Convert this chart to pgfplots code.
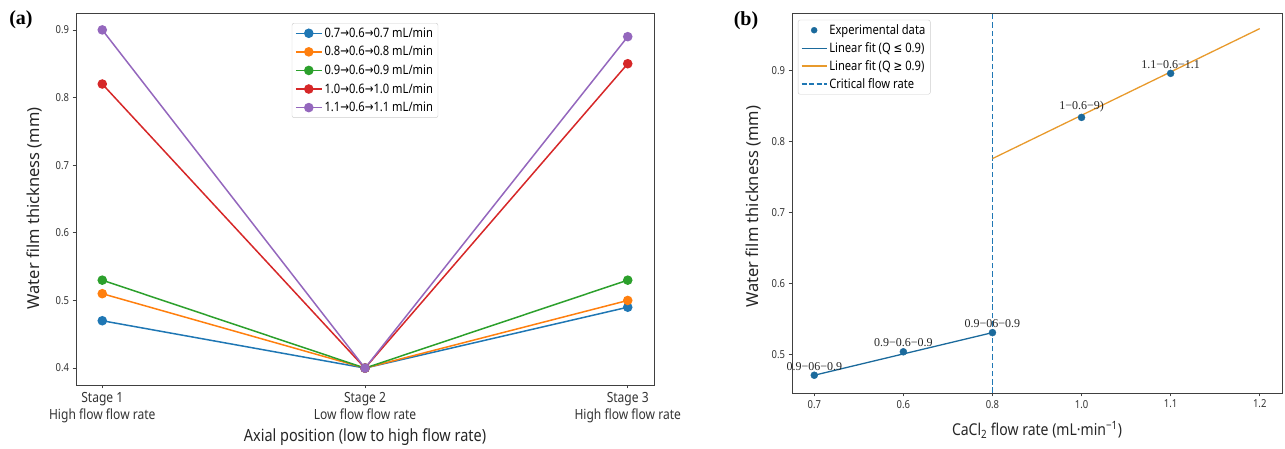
\documentclass[border=0pt]{standalone}
\usepackage{pgfplots}
\pgfplotsset{compat=1.18}
\usepackage{fontspec}
\setmainfont[FakeStretch=0.86]{Noto Sans}
\newfontfamily\ylabfont{Noto Sans}
\newfontfamily\dv[FakeStretch=0.8]{DejaVu Sans}
\newfontfamily\serifl{Liberation Serif}
\newcommand{\ar}{{\dv →}}
\definecolor{tblue}{HTML}{1F77B4}
\definecolor{torange}{HTML}{FF7F0E}
\definecolor{tgreen}{HTML}{2CA02C}
\definecolor{tred}{HTML}{D62728}
\definecolor{tpurple}{HTML}{9467BD}
\definecolor{pblue}{HTML}{1B6A9C}
\definecolor{forange}{HTML}{E89A2C}
\begin{document}
\begin{tikzpicture}
\useasboundingbox (0,0) rectangle (1285pt,449pt);
\pgfplotsset{
  common/.style={
    scale only axis, anchor=south west,
    tick align=outside, tick pos=left, major tick length=3.5pt,
    axis line style={draw=black!75, line width=0.8pt},
    every tick/.style={draw=black!75, line width=0.7pt},
    tick label style={font=\fontsize{11}{13}\selectfont, text=black!80},
    /pgf/number format/assume math mode=true,
    yticklabel style={/pgf/number format/.cd, fixed, fixed zerofill, precision=1},
    legend cell align=left,
  }
}
% ---------- panel (a)
\begin{axis}[common,
  at={(76pt,64pt)}, width=578pt, height=372pt,
  xmin=-0.1, xmax=2.1, ymin=0.375, ymax=0.925,
  xtick={0,1,2},
  xticklabels={{Stage 1\\High flow flow rate},{Stage 2\\Low flow flow rate},{Stage 3\\High flow flow rate}},
  xticklabel style={align=center, font=\fontsize{14}{17}\selectfont},
  ytick={0.4,0.5,0.6,0.7,0.8,0.9},
  xlabel={Axial position (low to high flow rate)},
  ylabel={Water film thickness (mm)},
  every axis x label/.style={at={(axis description cs:0.5,-0.14)}, anchor=center, font=\fontsize{16.8}{20}\selectfont, text=black!85},
  every axis y label/.style={at={(axis description cs:-0.071,0.475)}, anchor=center, rotate=90, font=\ylabfont\fontsize{16.5}{20}\selectfont, text=black!85},
  legend style={at={(axis description cs:0.5,0.973)}, anchor=north, draw=black!20, rounded corners=2pt,
    font=\fontsize{13}{15}\selectfont, row sep=3.5pt, inner xsep=3pt, inner ysep=2.5pt},
  legend image code/.code={\draw[mark repeat=2,mark phase=2] plot coordinates {(0pt,0pt)(13pt,0pt)(26pt,0pt)};},
  every axis plot/.append style={line width=1.5pt, mark=*, mark size=4pt, mark options={solid}},
]
\addplot[tblue] coordinates {(0,0.47) (1,0.40) (2,0.49)};
\addlegendentry{0.7\ar0.6\ar0.7 mL/min}
\addplot[torange] coordinates {(0,0.51) (1,0.40) (2,0.50)};
\addlegendentry{0.8\ar0.6\ar0.8 mL/min}
\addplot[tgreen] coordinates {(0,0.53) (1,0.40) (2,0.53)};
\addlegendentry{0.9\ar0.6\ar0.9 mL/min}
\addplot[tred] coordinates {(0,0.82) (1,0.40) (2,0.85)};
\addlegendentry{1.0\ar0.6\ar1.0 mL/min}
\addplot[tpurple] coordinates {(0,0.90) (1,0.40) (2,0.89)};
\addlegendentry{1.1\ar0.6\ar1.1 mL/min}
\end{axis}
% ---------- panel (b)
\begin{axis}[common,
  at={(792pt,56pt)}, width=490pt, height=380pt,
  xmin=0.675, xmax=1.225, ymin=0.446, ymax=0.981,
  xtick={0.7,0.8,0.9,1.0,1.1,1.2},
  xticklabels={0.7,0.6,0.8,1.0,1.1,1.2},
  ytick={0.5,0.6,0.7,0.8,0.9},
  xlabel={CaCl\textsubscript{2} flow rate (mL·min\textsuperscript{−1})},
  ylabel={Water film thickness (mm)},
  every axis x label/.style={at={(axis description cs:0.5,-0.097)}, anchor=center, font=\fontsize{16.3}{20}\selectfont, text=black!85},
  every axis y label/.style={at={(axis description cs:-0.0796,0.49)}, anchor=center, rotate=90, font=\ylabfont\fontsize{16.5}{20}\selectfont, text=black!85},
  legend style={at={(axis description cs:0.012,0.982)}, anchor=north west, draw=black!20, rounded corners=2pt,
    font=\fontsize{13}{15}\selectfont, row sep=2.5pt, inner xsep=3pt, inner ysep=2.5pt},
  legend image code/.code={\draw plot coordinates {(0pt,0pt)(25pt,0pt)};},
]
\addlegendimage{only marks, mark=*, mark size=3pt, pblue, legend image code/.code={\draw plot coordinates {(12.5pt,0pt)};}}
\addlegendentry{Experimental data}
\addlegendimage{pblue, line width=1.2pt}
\addlegendentry{Linear fit (Q {\dv ≤} 0.9)}
\addlegendimage{forange, line width=1.2pt}
\addlegendentry{Linear fit (Q {\dv ≥} 0.9)}
\addlegendimage{tblue, line width=1.2pt, dash pattern=on 5pt off 2.5pt}
\addlegendentry{Critical flow rate}
\addplot[forget plot, tblue, line width=1.3pt, dash pattern=on 5.5pt off 2.8pt] coordinates {(0.9,0.446) (0.9,0.981)};
\addplot[forget plot, pblue, line width=1.3pt] coordinates {(0.7,0.471) (0.9,0.531)};
\addplot[forget plot, forange, line width=1.3pt] coordinates {(0.9,0.776) (1.2,0.959)};
\addplot[forget plot, only marks, mark=*, mark size=3.5pt, pblue,
  nodes near coords, point meta=explicit symbolic,
  every node near coord/.append style={font=\serifl\fontsize{12}{14}\selectfont, text=black!85, anchor=south, yshift=1.5pt}]
  coordinates {(0.7,0.471)[0.9−06−0.9] (0.8,0.504)[0.9−0.6−0.9] (0.9,0.531)[0.9−06−0.9] (1.0,0.834)[1−0.6−9)] (1.1,0.896)[1.1−0.6−1.1]};
\end{axis}
\node[font=\serifl\bfseries\fontsize{20}{24}\selectfont] at (21pt,429pt) {(a)};
\node[font=\serifl\bfseries\fontsize{20}{24}\selectfont] at (746pt,428pt) {(b)};
\end{tikzpicture}
\end{document}
